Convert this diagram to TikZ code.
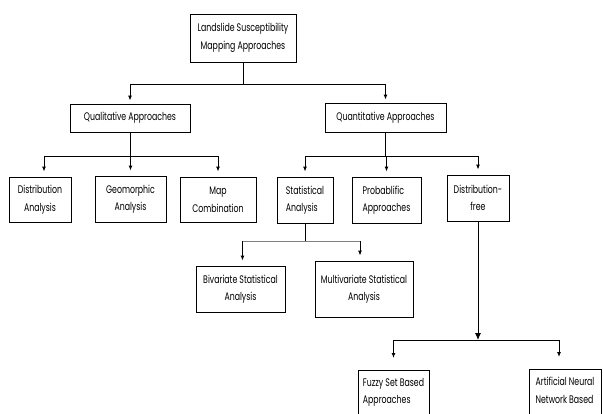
\documentclass[tikz,border=0pt]{standalone}
\usepackage{fontspec}
\setmainfont[FakeStretch=0.71]{Poppins}
\usetikzlibrary{arrows.meta}
\begin{document}
\begin{tikzpicture}[x=1pt,y=-1pt,
  box/.style={draw=black, line width=0.9pt, inner sep=0pt, font=\fontsize{11}{17.5}\selectfont},
  conn/.style={line width=0.9pt},
  arr/.style={line width=0.9pt, -{Latex[length=5pt,width=4pt]}, shorten >=5pt},
  lbl/.style={inner sep=0pt, font=\fontsize{11}{17.5}\selectfont}]
\useasboundingbox (0,0) rectangle (603,413);
\clip (0,0) rectangle (603,413);
% boxes
\node[box, minimum width=106, minimum height=48, align=center] (top) at (243,38) {Landslide Susceptibility\\Mapping Approaches};
\node[box, minimum width=120, minimum height=28] (qual) at (130,118) {Qualitative Approaches};
\node[box, minimum width=121, minimum height=29] (quant) at (385.5,117.5) {Quantitative Approaches};
\node[box, minimum width=62, minimum height=45, align=center] (dist) at (40,199.5) {Distribution\\Analysis};
\node[box, minimum width=71, minimum height=46, align=center] (geo) at (130.5,199) {Geomorphic\\Analysis};
\node[box, minimum width=76, minimum height=45, align=center] (map) at (218,199.5) {Map\\Combination};
\node[box, minimum width=56, minimum height=46, align=left] (stat) at (305,200) {Statistical\\Analysis};
\node[box, minimum width=69, minimum height=46, align=left] (prob) at (386.5,200) {Probablific\\Approaches};
\node[box, minimum width=62, minimum height=46, align=center] (dfree) at (478,198) {Distribution-\\free};
\node[box, minimum width=89, minimum height=46, align=center] (biv) at (240.5,289) {Bivariate Statistical\\Analysis};
\node[box, minimum width=98, minimum height=56, align=center] (multi) at (364,289) {Multivariate Statistical\\Analysis};
\node[box, minimum width=71, minimum height=60, anchor=north] (fuzzy) at (393.5,370) {};
\node[lbl, anchor=north, align=left] (fuzzyt) at ([yshift=-8pt]fuzzy.north) {Fuzzy Set Based\\Approaches};
\node[box, minimum width=72, minimum height=61, anchor=north] (ann) at (565,369) {};
\node[lbl, anchor=north, align=left] (annt) at ([yshift=-8pt]ann.north) {Artificial Neural\\Network Based};
% junctions
\coordinate (j1) at (243,84);
\coordinate (j2) at (130,156);
\coordinate (j3) at (385.5,156);
\coordinate (j4) at (305,241);
\coordinate (j5) at (478,340);
% top level
\draw[conn] (top.south) -- (j1);
\draw[conn] (j1 -| qual) -- (j1 -| quant);
\draw[arr, shorten >=3pt] (j1 -| qual) -- (qual.north);
\draw[arr, shorten >=3pt] (j1 -| quant) -- (quant.north);
% qualitative
\draw[conn] (qual.south) -- (j2);
\draw[conn] ([xshift=4pt]j2 -| dist) -- (j2 -| map);
\draw[arr] ([xshift=4pt]j2 -| dist) -- ([xshift=4pt]dist.north);
\draw[arr] (j2 -| geo) -- (geo.north);
\draw[arr] (j2 -| map) -- (map.north);
% quantitative
\draw[conn] (quant.south) -- (j3);
\draw[conn] (j3 -| stat) -- (j3 -| dfree);
\draw[arr] (j3 -| stat) -- (stat.north);
\draw[arr] (j3 -| prob) -- (prob.north);
\draw[arr] (j3 -| dfree) -- (dfree.north);
% statistical
\draw[conn] (stat.south) -- (j4);
\draw[conn, gray] ([xshift=2pt]j4 -| biv) -- ([xshift=-4pt]j4 -| multi);
\draw[arr] ([xshift=2pt]j4 -| biv) -- ([xshift=2pt]biv.north);
\draw[arr] ([xshift=-4pt]j4 -| multi) -- ([xshift=-4pt]multi.north);
% distribution-free
\draw[line width=0.9pt, -{Latex[length=7pt,width=6pt]}] (dfree.south) -- (j5);
\draw[conn] (j5 -| fuzzy) -- ([xshift=-6pt]j5 -| ann);
\draw[arr, shorten >=12pt] (j5 -| fuzzy) -- (fuzzy.north);
\draw[arr, shorten >=12pt] ([xshift=-6pt]j5 -| ann) -- ([xshift=-6pt]ann.north);
\end{tikzpicture}
\end{document}
